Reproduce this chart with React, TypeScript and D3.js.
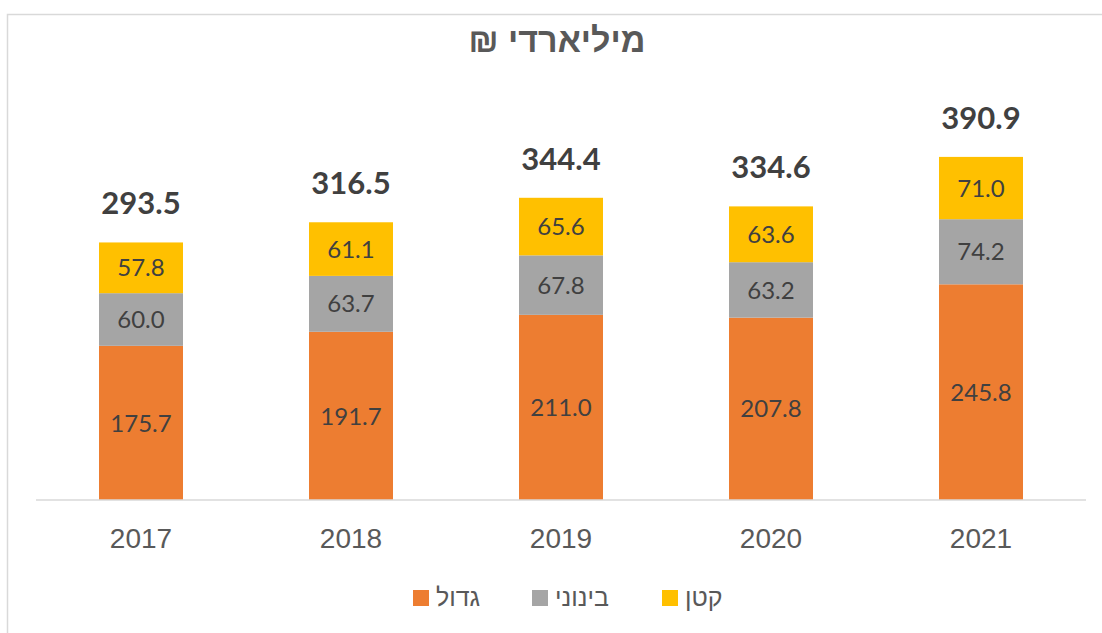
import {useEffect, useRef} from 'react';
import * as d3 from 'd3';

const years = ['2017', '2018', '2019', '2020', '2021'];
const large = [175.7, 191.7, 211.0, 207.8, 245.8];
const medium = [60.0, 63.7, 67.8, 63.2, 74.2];
const small = [57.8, 61.1, 65.6, 63.6, 71.0];
const totals = [293.5, 316.5, 344.4, 334.6, 390.9];
const seriesNames = ['גדול', 'בינוני', 'קטן'];
const colors = ['#ED7D31', '#A5A5A5', '#FFC000'];

const width = 1102;
const height = 633;
const font = '"Liberation Sans", Arial, sans-serif';
const labelFont = 'Lato, "Liberation Sans", sans-serif';

const App = () => {
  const svgRef = useRef<SVGSVGElement>(null);

  useEffect(() => {
    const svg = d3.select(svgRef.current);
    svg.selectAll('*').remove();

    // chart frame
    svg.append('rect')
      .attr('x', 7.5).attr('y', 14.5)
      .attr('width', width + 20).attr('height', height + 20)
      .attr('fill', 'white')
      .attr('stroke', '#d9d9d9')
      .attr('stroke-width', 1.5);

    const margin = {left: 36, right: 16, baseline: 500};

    const xScale = d3.scaleBand()
      .domain(years)
      .range([margin.left, width - margin.right])
      .paddingInner(0.6)
      .paddingOuter(0.3);

    const yScale = d3.scaleLinear()
      .domain([0, 450])
      .range([margin.baseline, margin.baseline - 450 * 0.8775]);

    const rows = years.map((y, i) => ({year: y, s0: large[i], s1: medium[i], s2: small[i]}));
    const stacked = d3.stack<any>().keys(['s0', 's1', 's2'])(rows);

    stacked.forEach((layer, li) => {
      const g = svg.append('g');
      g.selectAll('rect')
        .data(layer)
        .enter().append('rect')
        .attr('x', d => xScale(d.data.year)!)
        .attr('width', xScale.bandwidth())
        .attr('y', d => yScale(d[1]))
        .attr('height', d => yScale(d[0]) - yScale(d[1]))
        .attr('fill', colors[li]);

      g.selectAll('text')
        .data(layer)
        .enter().append('text')
        .attr('x', d => xScale(d.data.year)! + xScale.bandwidth() / 2)
        .attr('y', d => (yScale(d[0]) + yScale(d[1])) / 2)
        .attr('dy', '0.36em')
        .attr('text-anchor', 'middle')
        .style('font-family', labelFont)
        .style('font-size', '24px')
        .attr('fill', '#404040')
        .text(d => (d[1] - d[0]).toFixed(1));
    });

    // totals
    svg.append('g').selectAll('text')
      .data(years)
      .enter().append('text')
      .attr('x', d => xScale(d)! + xScale.bandwidth() / 2)
      .attr('y', (d, i) => yScale(totals[i]) - 28)
      .attr('text-anchor', 'middle')
      .style('font-family', labelFont)
      .style('font-size', '31px')
      .style('font-weight', 'bold')
      .attr('fill', '#404040')
      .text((d, i) => totals[i].toFixed(1));

    // axis
    const xAxis = svg.append('g')
      .attr('transform', `translate(0, ${margin.baseline})`)
      .call(d3.axisBottom(xScale).tickSize(0).tickPadding(28));
    xAxis.select('.domain').attr('stroke', '#d9d9d9').attr('stroke-width', 1.5)
      .attr('d', `M${margin.left},0H${width - margin.right}`);
    xAxis.selectAll('text')
      .attr('dy', 0)
      .attr('y', 48)
      .style('font-family', font)
      .style('font-size', '28px')
      .attr('fill', '#595959');

    // title
    svg.append('text')
      .attr('x', 557).attr('y', 52)
      .attr('text-anchor', 'middle')
      .attr('direction', 'rtl')
      .style('font-family', font)
      .style('font-size', '34px')
      .style('font-weight', 'bold')
      .attr('fill', '#595959')
      .text('מיליארדי ₪');

    // legend
    const legendX = [413, 532, 662];
    const legend = svg.append('g');
    seriesNames.forEach((name, i) => {
      legend.append('rect')
        .attr('x', legendX[i]).attr('y', 590)
        .attr('width', 16).attr('height', 16)
        .attr('fill', colors[i]);
      legend.append('text')
        .attr('x', legendX[i] + 23).attr('y', 606)
        .attr('direction', 'ltr')
        .style('font-family', font)
        .style('font-size', '25px')
        .attr('fill', '#595959')
        .text(name);
    });
  }, []);

  return (
    <svg
      ref={svgRef}
      width={width}
      height={height}
      style={{position: 'absolute', left: 0, top: 0, background: 'white'}}
    />
  );
};

export default App;
